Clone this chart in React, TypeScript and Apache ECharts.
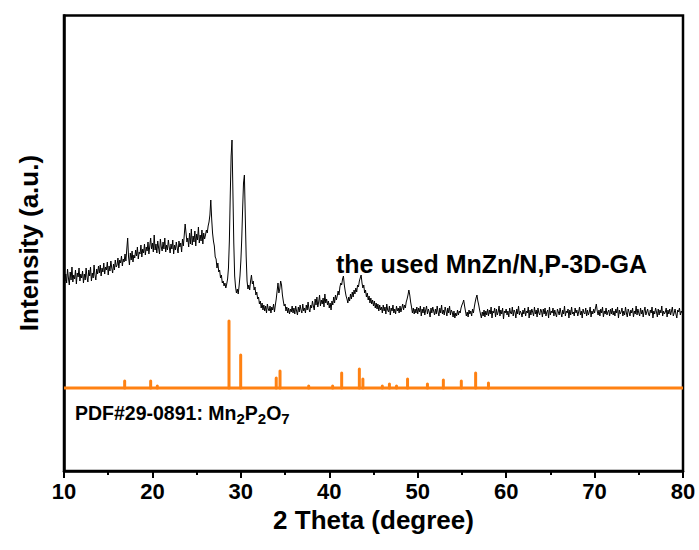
import React, { useEffect, useRef } from 'react';
import * as echarts from 'echarts';

// XRD scan: 2θ from 10.0 to 80.0 in 0.1° steps (intensity, arbitrary units), one row = 2°
const SCAN_START = 10;
const SCAN_STEP = 0.1;
const intensity: number[] = [
  200,190,197,188,202,193,186,199,191,204,189,196,192,201,187,198,194,203,190,197,
  193,200,188,197,191,203,194,189,201,195,204,190,198,193,206,196,191,202,197,205,
  198,206,195,203,199,208,197,204,201,209,196,205,200,210,203,198,207,201,211,204,
  206,213,203,211,208,215,205,212,209,217,210,222,233,214,206,218,211,220,209,216,
  213,221,215,224,212,219,217,226,214,222,218,227,216,224,220,229,217,225,233,222,
  228,219,236,221,227,218,230,223,217,232,224,220,229,222,233,219,226,221,231,224,
  218,227,222,231,217,226,221,229,223,218,230,224,228,219,232,225,236,247,238,229,
  233,224,238,227,242,226,235,229,240,225,237,231,244,228,236,230,241,227,238,232,
  236,241,238,245,249,256,271,252,238,230,225,214,212,203,208,199,201,193,196,188,
  190,185,188,183,187,192,203,230,275,315,331,280,228,195,184,178,182,177,185,195,
  210,232,262,288,296,255,215,190,182,186,181,190,196,187,190,181,184,176,179,172,
  174,167,170,163,168,161,166,160,165,158,167,162,160,165,158,164,161,167,159,166,
  172,180,188,178,182,190,186,176,170,165,167,160,164,158,163,157,162,159,165,158,
  163,157,165,160,156,164,159,166,161,158,167,160,163,158,166,161,169,162,159,166,
  163,170,165,161,172,166,174,164,169,176,165,171,167,173,164,177,168,172,166,170,
  163,168,161,170,166,174,168,176,171,175,180,176,184,188,186,192,195,186,180,175,
  172,168,174,170,177,172,179,174,181,177,183,179,186,184,190,193,196,188,183,186,
  178,181,174,178,171,175,168,173,167,171,165,170,163,168,162,167,160,166,161,164,
  158,166,160,164,157,167,161,159,165,156,163,160,166,158,162,157,165,160,163,158,
  165,159,163,167,161,166,163,169,172,176,181,176,169,164,158,163,157,162,158,164,
  157,163,159,165,155,162,158,164,156,161,165,157,162,159,154,163,158,164,160,156,
  162,157,165,159,155,163,158,166,157,161,156,164,160,155,163,158,165,156,161,159,
  154,160,153,158,155,161,156,160,158,163,166,168,171,165,160,155,159,154,161,157,
  160,155,162,158,164,169,173,176,170,166,161,157,153,159,155,161,154,160,156,162,
  155,161,157,164,153,160,158,163,154,162,156,159,165,155,161,157,163,152,160,158,
  162,156,160,154,163,158,157,164,155,161,159,153,162,157,165,156,160,158,154,161,
  157,163,155,160,158,164,153,161,156,162,159,155,164,157,161,154,163,158,156,162,
  160,154,162,157,163,155,159,161,153,164,156,160,158,163,155,161,157,154,162,159,
  156,163,158,154,161,157,165,155,160,158,162,153,161,156,164,157,159,155,163,158,
  161,155,159,164,156,160,153,162,158,157,163,155,161,156,159,164,154,160,157,162,
  158,163,167,160,156,161,155,162,158,164,154,160,157,163,156,159,161,155,162,157,
  163,156,160,155,162,158,164,153,161,157,159,163,155,160,156,164,158,154,162,159,
  155,161,158,163,154,160,157,165,156,162,158,155,163,157,161,154,160,164,156,159,
  162,157,155,161,158,164,153,160,157,163,159,154,162,156,161,158,165,155,160,157,
  159,163,154,161,157,162,156,160,164,155,158,162,157,153,161,159,163,156,160,158,
  157,
];

// Reference pattern PDF#29-0891 (Mn2P2O7): stick positions and tops
const refBase = 83;
const refPos = [16.86, 19.8, 20.55, 28.66, 29.98, 34.0, 34.43, 37.67, 40.38, 41.4, 43.4, 43.8, 46.0, 46.8, 47.6, 48.85, 51.1, 52.9, 54.93, 56.55, 58.0];
const refTop = [90, 90, 85, 150, 116, 93, 100, 85, 85, 98, 102, 92, 85, 87, 85, 92, 87, 91, 90, 98, 88];

const xTicks = [10, 20, 30, 40, 50, 60, 70, 80];

const ORANGE = '#ff8112';
const FONT = '"Liberation Sans", Arial, sans-serif';

export default function App() {
  const ref = useRef<HTMLDivElement>(null);
  useEffect(() => {
    if (!ref.current) return;
    const chart = echarts.init(ref.current, null, { renderer: 'svg' });
    const scan = intensity.map((v, i) => [+(SCAN_START + i * SCAN_STEP).toFixed(1), v]);
    const sticks = refPos.map((x, i) => [x, refTop[i]]);
    chart.setOption({
      animation: false,
      backgroundColor: '#fff',
      grid: { left: 64, right: 16, top: 15.5, bottom: 79, show: true, borderColor: '#000', borderWidth: 2.5, backgroundColor: 'transparent' },
      xAxis: {
        type: 'value', min: xTicks[0], max: xTicks[xTicks.length - 1], interval: 10,
        axisLine: { show: true, lineStyle: { color: '#000', width: 2.5 } },
        axisTick: { show: true, inside: false, length: 7, lineStyle: { color: '#000', width: 2 } },
        minorTick: { show: true, splitNumber: 2, length: 4, lineStyle: { color: '#000', width: 2 } },
        splitLine: { show: false },
        axisLabel: { color: '#000', fontSize: 22, fontWeight: 'bold', fontFamily: FONT, margin: 9 },
        name: '2 Theta (degree)', nameLocation: 'middle', nameGap: 28,
        nameTextStyle: { color: '#000', fontSize: 26, fontWeight: 'bold', fontFamily: FONT, verticalAlign: 'top' },
      },
      yAxis: {
        type: 'value', min: 0, max: 455.5,
        axisLine: { show: true, lineStyle: { color: '#000', width: 2.5 } },
        axisTick: { show: false }, axisLabel: { show: false }, splitLine: { show: false },
      },
      graphic: [
        { type: 'text', x: 29, y: 243, rotation: Math.PI / 2,
          style: { text: 'Intensity (a.u.)', fill: '#000', fontSize: 26, fontWeight: 'bold', fontFamily: FONT, align: 'center', verticalAlign: 'middle' } },
        { type: 'text', x: 336, y: 264,
          style: { text: 'the used MnZn/N,P-3D-GA', fill: '#000', fontSize: 25, fontWeight: 'bold', fontFamily: FONT, align: 'left', verticalAlign: 'middle' } },
        { type: 'text', x: 75, y: 399,
          style: {
            text: '{m|PDF#29-0891: Mn}{s|2}{m|P}{s|2}{m|O}{s|7}',
            fill: '#000', align: 'left', verticalAlign: 'top',
            rich: {
              m: { fontSize: 19.5, fontWeight: 'bold', fontFamily: FONT, fill: '#000', lineHeight: 27 },
              s: { fontSize: 15, fontWeight: 'bold', fontFamily: FONT, fill: '#000', lineHeight: 15, verticalAlign: 'bottom' },
            },
          } },
      ],
      series: [
        { type: 'line', data: [[xTicks[0], refBase], [xTicks[xTicks.length - 1], refBase]], showSymbol: false, silent: true,
          lineStyle: { color: ORANGE, width: 3 }, z: 2 },
        { type: 'custom', data: sticks, z: 3,
          renderItem: (_p: any, api: any) => {
            const x = api.value(0);
            const top = api.coord([x, api.value(1)]);
            const bot = api.coord([x, refBase]);
            return { type: 'line', shape: { x1: top[0], y1: top[1], x2: bot[0], y2: bot[1] },
              style: { stroke: ORANGE, lineWidth: 3, lineCap: 'round' } };
          } },
        { type: 'line', data: scan, showSymbol: false, silent: true,
          lineStyle: { color: '#000', width: 1 }, z: 4 },
      ],
    });
    return () => chart.dispose();
  }, []);
  return <div ref={ref} style={{ position: 'fixed', left: 0, top: 0, width: 699, height: 550 }} />;
}
